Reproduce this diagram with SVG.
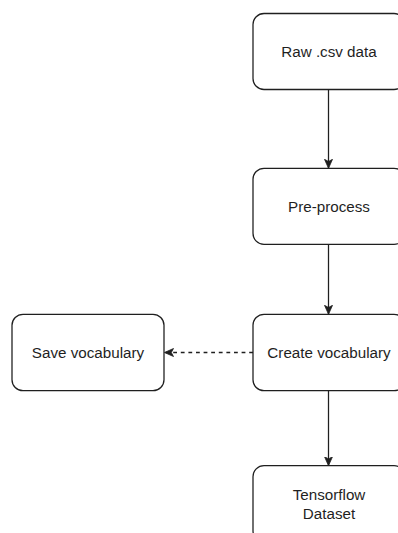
<svg xmlns="http://www.w3.org/2000/svg" width="398" height="533" viewBox="0 0 398 533">
  <style>
    .box { fill: #ffffff; stroke: #1f1f1f; stroke-width: 1.27; }
    .label { font-family: "Liberation Sans", Arial, sans-serif; font-size: 15.2px; fill: #1f1f1f; text-anchor: middle; }
    .edge { fill: none; stroke: #1f1f1f; stroke-width: 1.27; }
    .dashed { stroke-dasharray: 3.8 3.8; }
  </style>
  <defs>
    <marker id="arrow" markerUnits="userSpaceOnUse" markerWidth="12" markerHeight="12" refX="9" refY="5" orient="auto">
      <path d="M0,1 L9,5 L0,9 L2.2,5 Z" fill="#1f1f1f" stroke="#1f1f1f" stroke-width="0.8"/>
    </marker>
  </defs>
  <rect width="398" height="533" fill="#ffffff"/>

  <g id="connectors">
    <path class="edge" d="M328.5,89.5 L328.5,168.3" marker-end="url(#arrow)"/>
    <path class="edge" d="M328.5,244.3 L328.5,314.3" marker-end="url(#arrow)"/>
    <path class="edge" d="M328.5,390.7 L328.5,465.7" marker-end="url(#arrow)"/>
    <path class="edge dashed" d="M253,352.5 L164.5,352.5" marker-end="url(#arrow)"/>
  </g>

  <g id="raw-csv">
    <rect class="box" x="253" y="13.5" width="152" height="76" rx="11"/>
    <text class="label" x="329" y="56.8">Raw .csv data</text>
  </g>

  <g id="pre-process">
    <rect class="box" x="253" y="168.3" width="152" height="76" rx="11"/>
    <text class="label" x="329" y="211.6">Pre-process</text>
  </g>

  <g id="create-vocabulary">
    <rect class="box" x="253" y="314.3" width="152" height="76.4" rx="11"/>
    <text class="label" x="329" y="357.8">Create vocabulary</text>
  </g>

  <g id="save-vocabulary">
    <rect class="box" x="12" y="314.3" width="152" height="76.4" rx="11"/>
    <text class="label" x="88" y="357.8">Save vocabulary</text>
  </g>

  <g id="tensorflow-dataset">
    <rect class="box" x="253" y="465.7" width="152" height="76" rx="11"/>
    <text class="label" x="329" y="500.3">Tensorflow</text>
    <text class="label" x="329" y="518.5">Dataset</text>
  </g>
</svg>
